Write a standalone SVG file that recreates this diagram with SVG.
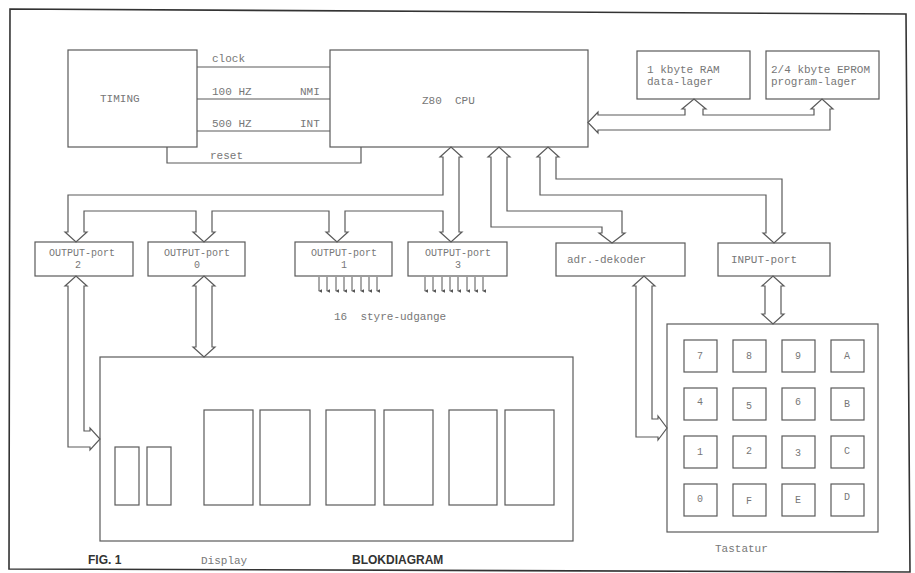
<svg xmlns="http://www.w3.org/2000/svg" width="915" height="573" viewBox="0 0 915 573">
<defs>
<marker id="pin" viewBox="0 0 6 6" refX="3" refY="5" markerWidth="4" markerHeight="4" orient="auto-start-reverse" markerUnits="userSpaceOnUse">
<path d="M0,0 L3,6 L6,0 Z" fill="#555"/>
</marker>
<style>
.bx{fill:none;stroke:#5a5a5a;stroke-width:1.2}
.ln{fill:none;stroke:#5a5a5a;stroke-width:1.2;stroke-linejoin:miter}
.bus{fill:#fff;stroke:#5a5a5a;stroke-width:1.2;stroke-linejoin:miter}
.t{font-family:"Liberation Mono","DejaVu Sans Mono",monospace;font-size:11px;fill:#777}
.ts{font-family:"Liberation Mono","DejaVu Sans Mono",monospace;font-size:10px;fill:#777}
.tc{text-anchor:middle}
.b{font-family:"Liberation Sans",Arial,sans-serif;font-size:12px;font-weight:bold;fill:#333}
.pin{stroke:#555;stroke-width:1}
</style>
</defs>
<rect width="915" height="573" fill="#fff"/>
<polygon points="10,9 906,14 910,572 9,569" fill="none" stroke="#333" stroke-width="1.6"/>

<g id="connectors">
<line class="ln" x1="197" y1="67" x2="330" y2="67"/>
<line class="ln" x1="197" y1="99" x2="330" y2="99"/>
<line class="ln" x1="197" y1="131" x2="330" y2="131"/>
<polyline class="ln" points="167,147 167,163 361,163 361,147"/>
<path class="bus" d="M598,115 L685,115 L685,109 L682,109 L694,99 L706,109 L703,109 L703,115 L814,115 L814,109 L811,109 L822,99 L833,109 L830,109 L830,130 L598,130 L598,133 L588,122.5 L598,112 Z"/>
<path class="bus" d="M443,157 L440,157 L451,147 L462,157 L459,157 L459,232 L462,232 L451,242 L440,232 L443,232 L443,211 L345,211 L345,232 L348,232 L337,242 L326,232 L329,232 L329,211 L212,211 L212,232 L215,232 L204,242 L193,232 L196,232 L196,211 L84,211 L84,232 L87,232 L76,242 L65,232 L68,232 L68,195 L443,195 Z"/>
<path class="bus" d="M68,286 L65,286 L76,276 L87,286 L84,286 L84,431 L90,431 L90,428 L100,439 L90,450 L90,447 L68,447 Z"/>
<path class="bus" d="M196,286 L193,286 L204,276 L215,286 L212,286 L212,347 L215,347 L204,357 L193,347 L196,347 Z"/>
<path class="bus" d="M491,157 L488,157 L499,147 L510,157 L507,157 L507,211 L622,211 L622,233 L625,233 L612,243 L599,233 L602,233 L602,227 L491,227 Z"/>
<path class="bus" d="M540,157 L537,157 L548,147 L559,157 L556,157 L556,179 L782,179 L782,233 L785,233 L774,243 L763,233 L766,233 L766,195 L540,195 Z"/>
<path class="bus" d="M636,286 L633,286 L644,276 L655,286 L652,286 L652,419 L658,419 L658,416 L667,428 L658,440 L658,437 L636,437 Z"/>
<path class="bus" d="M765,286 L762,286 L773,276 L784,286 L781,286 L781,314 L784,314 L773,324 L762,314 L765,314 Z"/>
<g class="pin" marker-end="url(#pin)">
<line x1="319" y1="277" x2="319" y2="291"/><line x1="327" y1="277" x2="327" y2="291"/>
<line x1="336" y1="277" x2="336" y2="291"/><line x1="344" y1="277" x2="344" y2="291"/>
<line x1="352" y1="277" x2="352" y2="291"/><line x1="361" y1="277" x2="361" y2="291"/>
<line x1="369" y1="277" x2="369" y2="291"/><line x1="377" y1="277" x2="377" y2="291"/>
<line x1="425" y1="277" x2="425" y2="291"/><line x1="433" y1="277" x2="433" y2="291"/>
<line x1="442" y1="277" x2="442" y2="291"/><line x1="450" y1="277" x2="450" y2="291"/>
<line x1="458" y1="277" x2="458" y2="291"/><line x1="467" y1="277" x2="467" y2="291"/>
<line x1="475" y1="277" x2="475" y2="291"/><line x1="483" y1="277" x2="483" y2="291"/>
</g>
<text class="t" x="212" y="62">clock</text>
<text class="t" x="212" y="95">100 HZ</text>
<text class="t" x="300" y="95">NMI</text>
<text class="t" x="212" y="127">500 HZ</text>
<text class="t" x="300" y="127">INT</text>
<text class="t" x="210" y="159">reset</text>
<text class="t" x="334" y="320" xml:space="preserve">16  styre-udgange</text>
</g>

<g id="timing"><rect class="bx" x="68" y="50" width="129" height="97"/><text class="t" x="100" y="102">TIMING</text></g>
<g id="cpu"><rect class="bx" x="330" y="50" width="258" height="97"/><text class="t" x="422" y="104" xml:space="preserve">Z80  CPU</text></g>
<g id="ram"><rect class="bx" x="637" y="51" width="113" height="48"/><text class="t" x="647" y="73">1 kbyte RAM</text><text class="t" x="647" y="85">data-lager</text></g>
<g id="eprom"><rect class="bx" x="766" y="51" width="113" height="48"/><text class="t" x="771" y="73">2/4 kbyte EPROM</text><text class="t" x="771" y="85">program-lager</text></g>

<g id="port2"><rect class="bx" x="35" y="242" width="98" height="34"/><text class="ts tc" x="82" y="256">OUTPUT-port</text><text class="ts tc" x="78" y="268">2</text></g>
<g id="port0"><rect class="bx" x="148" y="242" width="97" height="34"/><text class="ts tc" x="197" y="256">OUTPUT-port</text><text class="ts tc" x="197" y="268">0</text></g>
<g id="port1"><rect class="bx" x="295" y="242" width="97" height="34"/><text class="ts tc" x="344" y="256">OUTPUT-port</text><text class="ts tc" x="344" y="268">1</text></g>
<g id="port3"><rect class="bx" x="408" y="242" width="99" height="34"/><text class="ts tc" x="458" y="256">OUTPUT-port</text><text class="ts tc" x="458" y="268">3</text></g>
<g id="adr"><rect class="bx" x="556" y="243" width="129" height="33"/><text class="t" x="567" y="263">adr.-dekoder</text></g>
<g id="input"><rect class="bx" x="718" y="243" width="112" height="33"/><text class="t" x="731" y="263">INPUT-port</text></g>

<g id="display">
<rect class="bx" x="100" y="357" width="473" height="184"/>
<rect class="bx" x="115" y="447" width="24" height="58"/>
<rect class="bx" x="147" y="447" width="24" height="58"/>
<rect class="bx" x="204" y="410" width="49" height="95"/>
<rect class="bx" x="260" y="410" width="50" height="95"/>
<rect class="bx" x="326" y="410" width="49" height="95"/>
<rect class="bx" x="384" y="410" width="49" height="95"/>
<rect class="bx" x="449" y="410" width="48" height="95"/>
<rect class="bx" x="505" y="410" width="49" height="95"/>
<text class="t" x="201" y="564">Display</text>
</g>

<g id="keyboard">
<rect class="bx" x="667" y="324" width="211" height="208"/>
<g class="bx">
<rect x="684" y="340" width="33" height="32"/><rect x="733" y="340" width="33" height="32"/><rect x="782" y="340" width="33" height="32"/><rect x="831" y="340" width="33" height="32"/>
<rect x="684" y="388" width="33" height="32"/><rect x="733" y="388" width="33" height="32"/><rect x="782" y="388" width="33" height="32"/><rect x="831" y="388" width="33" height="32"/>
<rect x="684" y="436" width="33" height="32"/><rect x="733" y="436" width="33" height="32"/><rect x="782" y="436" width="33" height="32"/><rect x="831" y="436" width="33" height="32"/>
<rect x="684" y="484" width="33" height="32"/><rect x="733" y="484" width="33" height="32"/><rect x="782" y="484" width="33" height="32"/><rect x="831" y="484" width="33" height="32"/>
</g>
<g class="ts tc">
<text x="700" y="359">7</text><text x="749" y="359">8</text><text x="798" y="359">9</text><text x="847" y="359">A</text>
<text x="700" y="405">4</text><text x="749" y="409">5</text><text x="798" y="405">6</text><text x="847" y="407">B</text>
<text x="700" y="455">1</text><text x="749" y="454">2</text><text x="798" y="456">3</text><text x="847" y="454">C</text>
<text x="700" y="502">0</text><text x="749" y="504">F</text><text x="798" y="503">E</text><text x="847" y="500">D</text>
</g>
<text class="t" x="715" y="552">Tastatur</text>
</g>

<g id="captions">
<text class="b" x="88" y="564">FIG. 1</text>
<text class="b" x="352" y="564">BLOKDIAGRAM</text>
</g>
</svg>
